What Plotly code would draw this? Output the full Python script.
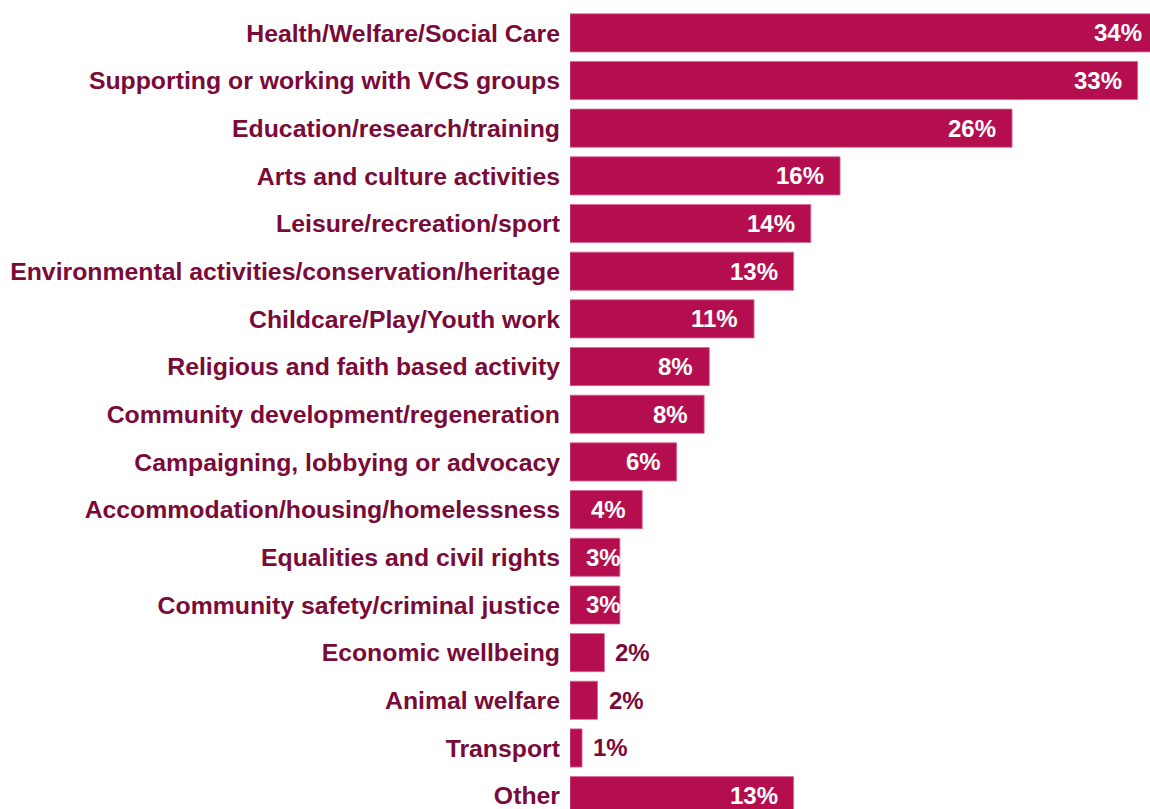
import plotly.graph_objects as go

# Share of organisations working in each area (%)
categories = [
    "Health/Welfare/Social Care",
    "Supporting or working with VCS groups",
    "Education/research/training",
    "Arts and culture activities",
    "Leisure/recreation/sport",
    "Environmental activities/conservation/heritage",
    "Childcare/Play/Youth work",
    "Religious and faith based activity",
    "Community development/regeneration",
    "Campaigning, lobbying or advocacy",
    "Accommodation/housing/homelessness",
    "Equalities and civil rights",
    "Community safety/criminal justice",
    "Economic wellbeing",
    "Animal welfare",
    "Transport",
    "Other",
]
values = [34.2, 33.0, 25.7, 15.7, 14.0, 13.0, 10.7, 8.1, 7.8, 6.2,
          4.2, 2.9, 2.9, 2.0, 1.6, 0.7, 13.0]

BAR = "#B50E4E"
LABEL = "#7A0A38"
FONT = "Liberation Sans, Arial, Helvetica, sans-serif"

W, H = 1150, 809
LEFT, TOP = 570, 9
XMAX = 33.72                     # visible extent of the value axis
PX_PER_UNIT = (W - LEFT) / XMAX
PAD = 14                         # gap between value label and bar edge
VAL_SIZE = 24

fig = go.Figure(go.Bar(
    x=values,
    y=categories,
    orientation="h",
    marker=dict(color=BAR, line=dict(color="#D8679A", width=0.8)),
    hoverinfo="skip",
))

annotations = []
for cat, v in zip(categories, values):
    text = f"{v:.0f}%"
    bar_px = v * PX_PER_UNIT
    text_px = 12.5 * len(text)
    if v < 2.5:
        # short bars: dark label just past the end of the bar
        annotations.append(dict(
            x=v, y=cat, text=text, xanchor="left", xshift=9,
            showarrow=False, font=dict(family=FONT, size=VAL_SIZE, color=LABEL, weight="bold"),
        ))
    elif bar_px - 2 * PAD < text_px:
        annotations.append(dict(
            x=0, y=cat, text=text, xanchor="left", xshift=PAD,
            showarrow=False, font=dict(family=FONT, size=VAL_SIZE, color="white", weight="bold"),
        ))
    else:
        clipped = v > XMAX
        annotations.append(dict(
            x=min(v, XMAX), y=cat, text=text, xanchor="right",
            xshift=-6 if clipped else -PAD,
            showarrow=False, font=dict(family=FONT, size=VAL_SIZE, color="white", weight="bold"),
        ))

fig.update_layout(
    width=W,
    height=H,
    margin=dict(l=LEFT, r=0, t=TOP, b=0, pad=0),
    paper_bgcolor="white",
    plot_bgcolor="white",
    bargap=0.2,
    showlegend=False,
    annotations=annotations,
    xaxis=dict(range=[0, XMAX], showgrid=False, zeroline=False,
               showticklabels=False, showline=False, fixedrange=True),
    yaxis=dict(
        range=[16.28, -0.5],
        showgrid=False, zeroline=False, showline=False,
        ticks="", ticklabelstandoff=9,
        tickfont=dict(family=FONT, size=24.8, color=LABEL, weight="bold"),
        fixedrange=True,
    ),
)

fig.write_html("out.html", config={"displayModeBar": False})
